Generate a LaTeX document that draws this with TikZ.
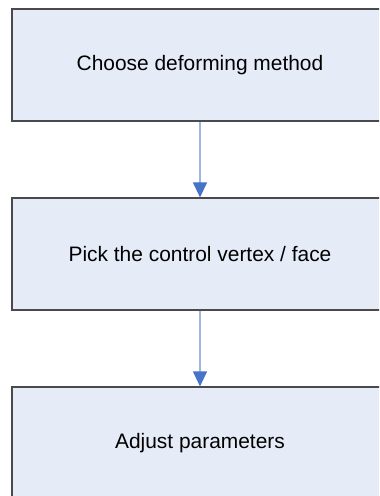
\documentclass[tikz,border=0pt]{standalone}
\usepackage{fontspec}
\setmainfont{Liberation Sans}
\usetikzlibrary{arrows.meta}
\definecolor{boxfill}{HTML}{E6ECF7}
\definecolor{boxline}{HTML}{4A4A4A}
\definecolor{linkblue}{HTML}{9DB5E0}
\definecolor{tipblue}{HTML}{4674C6}
\tikzset{
  stepbox/.style={draw=boxline, line width=1.2bp, fill=boxfill, rectangle,
    minimum width=376bp, minimum height=112bp, inner sep=0pt,
    font=\fontsize{21}{25}\selectfont, text=black},
  link/.style={draw=linkblue, line width=1.2bp,
    -{Triangle[width=14bp,length=15bp,color=tipblue]}}
}
\begin{document}
\begin{tikzpicture}[x=1bp,y=-1bp]
\useasboundingbox (0,0) rectangle (379,496);
\clip (0,0) rectangle (379,496);
\node[stepbox] (a) at (200,65) {Choose deforming method};
\node[stepbox] (b) at (200,254) {Pick the control vertex / face};
\node[stepbox] (c) at (200,443) {Adjust parameters};
\draw[link] (a) -- (b);
\draw[link] (b) -- (c);
\end{tikzpicture}
\end{document}
